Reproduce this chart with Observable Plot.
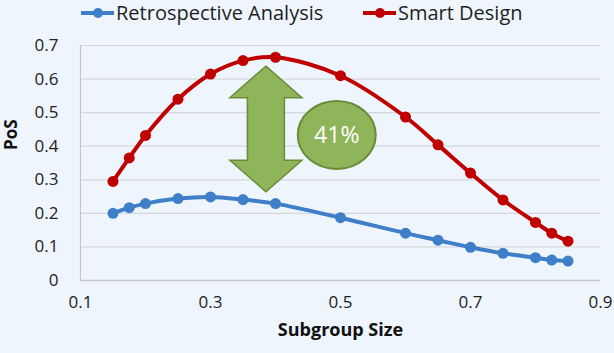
<!DOCTYPE html>
<html>
<head>
<meta charset="utf-8">
<script src="https://cdn.jsdelivr.net/npm/d3@7"></script>
<script src="https://cdn.jsdelivr.net/npm/@observablehq/plot@0.6"></script>
<style>
  html, body { margin: 0; padding: 0; background: #eef5fc; }
  #wrap { width: 614px; height: 353px; position: relative; overflow: hidden; background: #eef5fc; font-family: "Open Sans", sans-serif; }
  #legend { position: relative; height: 28px; }
  .lg { position: absolute; top: 1px; height: 24px; line-height: 24px; display: flex; align-items: center; font-size: 20px; color: #1f1f1f; white-space: nowrap; }
  .lg svg { margin-right: 2px; }
</style>
</head>
<body>
<div id="wrap">
  <div id="legend"></div>
  <div id="chart"></div>
</div>
<script>
// ---- data ----
const subgroupSize = [0.15, 0.175, 0.2, 0.25, 0.3, 0.35, 0.4, 0.5, 0.6, 0.65, 0.7, 0.75, 0.8, 0.825, 0.85];
const retrospective = [0.200, 0.217, 0.229, 0.244, 0.249, 0.241, 0.229, 0.187, 0.141, 0.120, 0.099, 0.081, 0.068, 0.061, 0.058];
const smartDesign   = [0.295, 0.365, 0.432, 0.540, 0.615, 0.655, 0.665, 0.610, 0.487, 0.404, 0.320, 0.240, 0.173, 0.141, 0.117];
const seriesNames = ["Retrospective Analysis", "Smart Design"];
const seriesColors = ["#3f7ec8", "#c00000"];
const xTicks = [0.1, 0.3, 0.5, 0.7, 0.9];
const yTicks = [0, 0.1, 0.2, 0.3, 0.4, 0.5, 0.6, 0.7];
const annotationLabel = "41%";
const xTitle = "Subgroup Size";
const yTitle = "PoS";
// annotation anchors (data units)
const arrowX = 0.386, arrowTop = 0.637, arrowBottom = 0.263;
const bubbleX = 0.495, bubbleY = 0.432;

const rows = [];
seriesNames.forEach((s, k) => {
  const vals = k === 0 ? retrospective : smartDesign;
  subgroupSize.forEach((x, i) => rows.push({series: s, x, y: vals[i]}));
});

// ---- legend ----
const legend = document.getElementById("legend");
const legendPos = [81, 363];
seriesNames.forEach((s, k) => {
  const d = document.createElement("div");
  d.className = "lg";
  d.style.left = legendPos[k] + "px";
  d.innerHTML = `<svg width="33" height="12"><line x1="0" y1="6" x2="33" y2="6" stroke="${seriesColors[k]}" stroke-width="4"/><circle cx="17" cy="6" r="5" fill="${seriesColors[k]}"/></svg><span>${s}</span>`;
  legend.appendChild(d);
});

// ---- annotation render marks ----
function arrowMark(index, scales) {
  const cx = scales.x(arrowX), yt = scales.y(arrowTop), yb = scales.y(arrowBottom);
  const hw = 36, sw = 18.5, hl = 31.5;
  const pts = [
    [cx, yt], [cx + hw, yt + hl], [cx + sw, yt + hl], [cx + sw, yb - hl], [cx + hw, yb - hl],
    [cx, yb], [cx - hw, yb - hl], [cx - sw, yb - hl], [cx - sw, yt + hl], [cx - hw, yt + hl]
  ];
  const g = d3.create("svg:g");
  g.append("path").attr("d", "M" + pts.map(p => p.join(",")).join("L") + "Z")
    .attr("fill", "#8fb55a").attr("stroke", "#6a8c38").attr("stroke-width", 1.5);
  return g.node();
}
function bubbleMark(index, scales) {
  const cx = scales.x(bubbleX), cy = scales.y(bubbleY);
  const g = d3.create("svg:g");
  g.append("ellipse").attr("cx", cx).attr("cy", cy).attr("rx", 39).attr("ry", 34)
    .attr("fill", "#8fb55a").attr("stroke", "#6a8c38").attr("stroke-width", 2);
  g.append("text").attr("x", cx).attr("y", cy).attr("dy", "0.35em").attr("text-anchor", "middle")
    .attr("fill", "white").attr("font-size", 23).attr("font-family", "Open Sans, sans-serif")
    .text(annotationLabel);
  return g.node();
}

const chart = Plot.plot({
  width: 614,
  height: 325,
  marginTop: 17,
  marginBottom: 73,
  marginLeft: 80,
  marginRight: 14,
  style: {background: "#eef5fc", fontFamily: "Open Sans, sans-serif", color: "#222"},
  x: {domain: [0.1, 0.9]},
  y: {domain: [0, 0.7]},
  color: {domain: seriesNames, range: seriesColors},
  marks: [
    Plot.gridY(yTicks.filter(d => d > 0), {stroke: "#d4d8dd", strokeOpacity: 1, strokeWidth: 1.2}),
    Plot.ruleX([0.1], {y1: 0, y2: 0.7, stroke: "#c4c8cc", strokeWidth: 1.2}),
    Plot.ruleY([0], {stroke: "#c4c8cc", strokeWidth: 1.5}),
    Plot.axisX(xTicks, {tickSize: 0, tickPadding: 15, fontSize: 17, tickFormat: d => d.toFixed(1), label: null}),
    Plot.axisY(yTicks, {tickSize: 0, tickPadding: 22, fontSize: 17, tickFormat: d => d === 0 ? "0" : d.toFixed(1), label: null}),
    Plot.line(rows, {x: "x", y: "y", z: "series", stroke: "series", strokeWidth: 4, curve: "catmull-rom"}),
    Plot.dot(rows, {x: "x", y: "y", fill: "series", r: 5.5}),
    arrowMark,
    bubbleMark,
    Plot.text([xTitle], {frameAnchor: "bottom", dy: 55, fontSize: 18, fontWeight: "bold", fill: "#111", letterSpacing: "0.4px", wordSpacing: "4px"}),
    Plot.text([yTitle], {frameAnchor: "left", dx: -69, dy: -13, rotate: -90, fontSize: 17, fontWeight: "bold", fill: "#111"})
  ]
});
document.getElementById("chart").appendChild(chart);
</script>
</body>
</html>
